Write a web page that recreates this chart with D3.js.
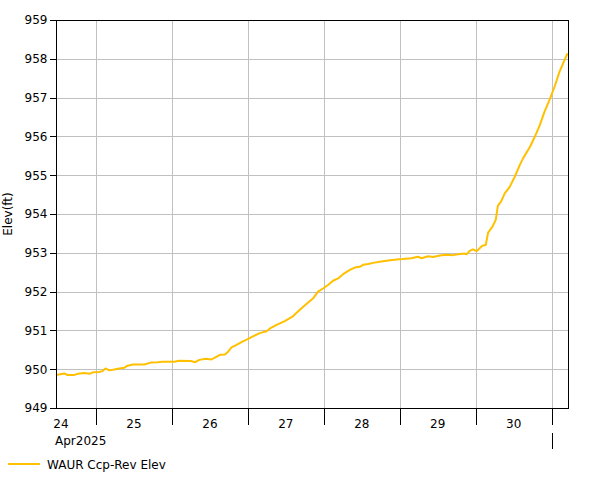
<!DOCTYPE html>
<html>
<head>
<meta charset="utf-8">
<script src="https://cdn.jsdelivr.net/npm/d3@7"></script>
<style>
  html, body { margin: 0; padding: 0; background: #fff; }
  svg text { font-family: "DejaVu Sans", Verdana, sans-serif; font-size: 12px; fill: #000; }
</style>
</head>
<body>
<svg id="chart" width="601" height="480"></svg>
<script>
// ---- data ----
const times = [
  "2025-04-24 11:22","2025-04-24 14:00","2025-04-24 15:00","2025-04-24 17:00","2025-04-24 18:15",
  "2025-04-24 20:15","2025-04-24 21:55","2025-04-24 23:00","2025-04-25 01:00","2025-04-25 02:00",
  "2025-04-25 03:00","2025-04-25 04:15","2025-04-25 05:45","2025-04-25 07:20","2025-04-25 09:00",
  "2025-04-25 10:00","2025-04-25 11:35","2025-04-25 15:15","2025-04-25 17:20","2025-04-25 19:30",
  "2025-04-25 21:00","2025-04-26 00:45","2025-04-26 02:20","2025-04-26 06:00","2025-04-26 07:20",
  "2025-04-26 08:40","2025-04-26 10:45","2025-04-26 12:30","2025-04-26 13:35","2025-04-26 15:10",
  "2025-04-26 16:45","2025-04-26 17:45","2025-04-26 18:50","2025-04-26 20:25","2025-04-26 22:00",
  "2025-04-27 00:05","2025-04-27 02:15","2025-04-27 03:45","2025-04-27 05:55","2025-04-27 07:00",
  "2025-04-27 09:05","2025-04-27 11:40","2025-04-27 14:20","2025-04-27 16:25","2025-04-27 18:30",
  "2025-04-27 20:40","2025-04-27 22:10","2025-04-27 23:45","2025-04-28 01:20","2025-04-28 02:55",
  "2025-04-28 04:30","2025-04-28 06:05","2025-04-28 08:15","2025-04-28 09:45","2025-04-28 11:20",
  "2025-04-28 12:25","2025-04-28 14:00","2025-04-28 15:35","2025-04-28 17:40","2025-04-28 20:20",
  "2025-04-28 23:00","2025-04-29 01:00","2025-04-29 03:40","2025-04-29 05:45","2025-04-29 06:50",
  "2025-04-29 09:00","2025-04-29 10:30","2025-04-29 12:40","2025-04-29 14:45","2025-04-29 16:50",
  "2025-04-29 18:25","2025-04-29 20:30","2025-04-29 21:05","2025-04-29 22:05","2025-04-29 23:10",
  "2025-04-30 00:15","2025-04-30 02:05","2025-04-30 03:10","2025-04-30 03:55","2025-04-30 05:15",
  "2025-04-30 06:20","2025-04-30 07:00","2025-04-30 08:05","2025-04-30 09:10","2025-04-30 10:45",
  "2025-04-30 12:20","2025-04-30 13:55","2025-04-30 15:00","2025-04-30 17:05","2025-04-30 18:40",
  "2025-04-30 20:15","2025-04-30 21:45","2025-04-30 23:20","2025-05-01 00:55","2025-05-01 02:30",
  "2025-05-01 04:05","2025-05-01 05:00"
];
const elevations = [
  949.85,949.89,949.85,949.85,949.88,
  949.90,949.88,949.92,949.93,949.95,
  950.02,949.97,949.99,950.02,950.04,
  950.09,950.12,950.12,950.17,950.18,
  950.19,950.19,950.22,950.21,950.18,
  950.24,950.27,950.25,950.30,950.37,
  950.38,950.45,950.56,950.63,950.70,
  950.78,950.87,950.93,950.98,951.05,
  951.14,951.24,951.37,951.53,951.68,
  951.83,952.00,952.08,952.17,952.28,
  952.34,952.45,952.56,952.62,952.64,
  952.69,952.71,952.74,952.77,952.80,
  952.83,952.84,952.86,952.90,952.86,
  952.91,952.89,952.93,952.95,952.94,
  952.96,952.98,952.96,953.05,953.09,
  953.04,953.18,953.20,953.52,953.67,
  953.85,954.21,954.33,954.53,954.70,
  954.96,955.26,955.44,955.72,955.99,
  956.29,956.64,956.94,957.28,957.67,
  957.97,958.14
];
const yTicks = [949,950,951,952,953,954,955,956,957,958,959];
const timeDomain = ["2025-04-24 11:22","2025-05-01 05:10"];
const dayLabels = ["24","25","26","27","28","29","30"];
const monthLabel = "Apr2025";
const seriesName = "WAUR Ccp-Rev Elev";
const yTitle = "Elev(ft)";

// ---- chart ----
const parse = d3.utcParse("%Y-%m-%d %H:%M");
const data = times.map((t, i) => ({ t: parse(t), v: elevations[i] }));

const M = { left: 56, right: 568, top: 20, bottom: 408 };
const lineColor = "#FFC000";
const gridColor = "#C0C0C0";

const x = d3.scaleUtc().domain(timeDomain.map(parse)).range([M.left, M.right]);
const y = d3.scaleLinear().domain([949, 959]).range([M.bottom, M.top]);

const svg = d3.select("#chart");

// day boundaries
const days = d3.utcDay.range(d3.utcDay.ceil(x.domain()[0]), x.domain()[1]);

// grid
const grid = svg.append("g").attr("shape-rendering", "crispEdges");
grid.selectAll("line.h").data(yTicks.filter(v => v > 949 && v < 959)).join("line")
  .attr("x1", M.left).attr("x2", M.right)
  .attr("y1", d => Math.round(y(d)) + 0.5).attr("y2", d => Math.round(y(d)) + 0.5)
  .attr("stroke", gridColor);
grid.selectAll("line.v").data(days).join("line")
  .attr("x1", d => Math.round(x(d)) + 0.5).attr("x2", d => Math.round(x(d)) + 0.5)
  .attr("y1", M.top).attr("y2", M.bottom)
  .attr("stroke", gridColor);

// clip
svg.append("clipPath").attr("id", "clip").append("rect")
  .attr("x", M.left).attr("y", M.top).attr("width", M.right - M.left).attr("height", M.bottom - M.top);

// series line
const line = d3.line().x(d => x(d.t)).y(d => y(d.v));
svg.append("path").datum(data)
  .attr("clip-path", "url(#clip)")
  .attr("fill", "none").attr("stroke", lineColor).attr("stroke-width", 2)
  .attr("stroke-linejoin", "round")
  .attr("d", line);

// frame
const frame = svg.append("g").attr("shape-rendering", "crispEdges").attr("stroke", "#000");
frame.append("rect")
  .attr("x", M.left + 0.5).attr("y", M.top + 0.5)
  .attr("width", M.right - M.left).attr("height", M.bottom - M.top)
  .attr("fill", "none");

// y axis ticks + labels
const yAxis = d3.axisLeft(y).tickValues(yTicks).tickSize(7).tickPadding(2).tickFormat(d3.format("d"));
const ya = svg.append("g").attr("transform", `translate(${M.left + 0.5},0)`).call(yAxis);
ya.select(".domain").remove();
ya.selectAll("line").attr("stroke", "#000").attr("shape-rendering", "crispEdges");
ya.selectAll("text").attr("font-family", "DejaVu Sans, Verdana, sans-serif").attr("font-size", 12).attr("fill", "#000");

// x axis: day ticks, day labels
const xa = svg.append("g").attr("shape-rendering", "crispEdges");
xa.selectAll("line").data(days).join("line")
  .attr("x1", d => Math.round(x(d)) + 0.5).attr("x2", d => Math.round(x(d)) + 0.5)
  .attr("y1", M.bottom).attr("y2", M.bottom + 17)
  .attr("stroke", "#000");

const dayStarts = [d3.utcDay.floor(x.domain()[0])].concat(days);
svg.append("g").selectAll("text").data(dayStarts.slice(0, dayLabels.length)).join("text")
  .attr("x", d => Math.max(x(d3.utcHour.offset(d, 12)), M.left + 5))
  .attr("y", M.bottom + 20)
  .attr("text-anchor", "middle")
  .text((d, i) => dayLabels[i]);

svg.append("text").attr("x", M.left - 1).attr("y", M.bottom + 37).text(monthLabel);

// month boundary tick
const months = d3.utcMonth.range(d3.utcMonth.ceil(x.domain()[0]), x.domain()[1]);
svg.append("g").selectAll("line").data(months).join("line")
  .attr("shape-rendering", "crispEdges")
  .attr("x1", d => Math.round(x(d)) + 0.5).attr("x2", d => Math.round(x(d)) + 0.5)
  .attr("y1", M.bottom + 25).attr("y2", M.bottom + 41)
  .attr("stroke", "#000");

// y title
svg.append("text")
  .attr("transform", `translate(11.5,${(M.top + M.bottom) / 2}) rotate(-90)`)
  .attr("text-anchor", "middle")
  .text(yTitle);

// legend
svg.append("line").attr("x1", 8).attr("x2", 40).attr("y1", 464).attr("y2", 464)
  .attr("stroke", lineColor).attr("stroke-width", 2);
svg.append("text").attr("x", 47).attr("y", 468.5).text(seriesName);
</script>
</body>
</html>
